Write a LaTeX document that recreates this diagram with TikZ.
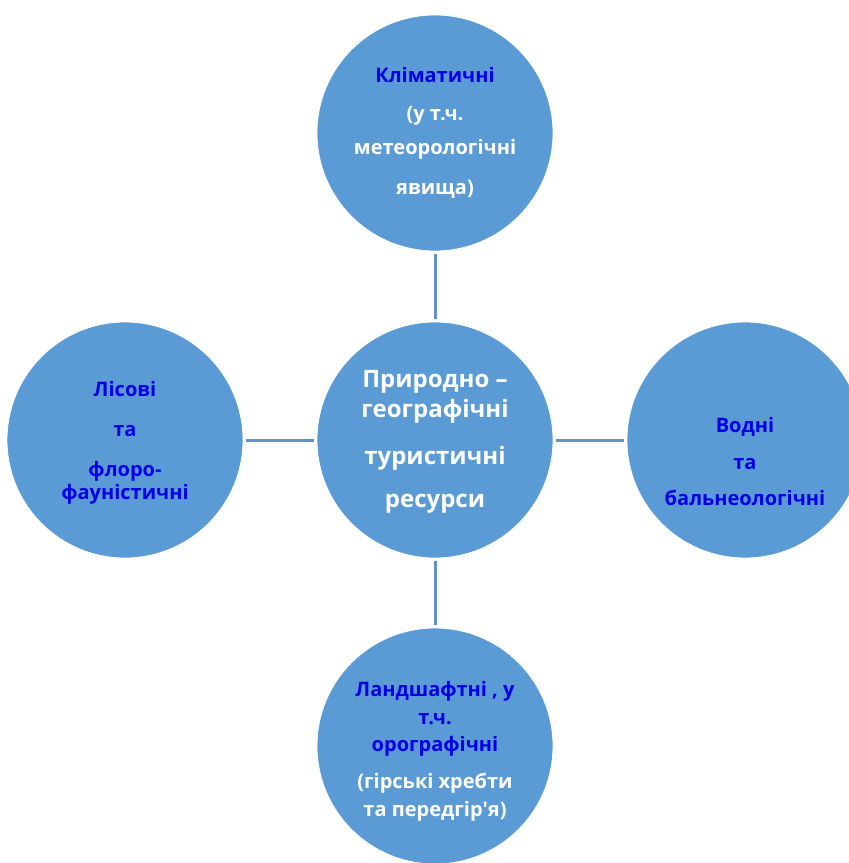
\documentclass[tikz,border=0pt]{standalone}
\usepackage{fontspec}
\setmainfont{Open Sans}[Ligatures=TeXOff]
\definecolor{circfill}{RGB}{91,155,213}
\definecolor{linkcol}{RGB}{100,145,200}
\definecolor{bluetext}{RGB}{0,0,230}
\tikzset{
  bubble/.style={circle,fill=circfill,draw=white,line width=0.8pt,minimum size=236pt,inner sep=0pt},
  link/.style={draw=linkcol,line width=3pt,shorten <=3pt,shorten >=3pt},
  outertxt/.style={align=center,font=\fontsize{20}{30}\selectfont\bfseries,text=bluetext,inner sep=0pt},
  centertxt/.style={align=center,font=\fontsize{24}{31}\selectfont\bfseries,text=white,inner sep=0pt}
}
\begin{document}
\begin{tikzpicture}[x=1pt,y=-1pt]
\useasboundingbox (0,0) rectangle (849,863);
\node[bubble] (top) at (435,133) {};
\node[bubble] (mid) at (435,440) {};
\node[bubble] (left) at (125,440) {};
\node[bubble] (right) at (745,440) {};
\node[bubble] (bot) at (435,746) {};
\draw[link] (top) -- (mid);
\draw[link] (mid) -- (bot);
\draw[link] (left) -- (mid);
\draw[link] (mid) -- (right);
\node[outertxt] (ttop) at (435,132.5) {Кліматичні\\[8pt]\textcolor{white}{(у т.ч.}\\[4pt]\textcolor{white}{метеорологічні}\\[10pt]\textcolor{white}{явища)}};
\node[outertxt] (tright) at (745,461.5) {Водні\\[7pt]та\\[6pt]бальнеологічні};
\node[outertxt] (tleft) at (125,443) {Лісові\\[10pt]та\\[10pt]флоро-\\[-7pt]фауністичні};
\node[outertxt] (tbot) at (435,751) {Ландшафтні , у\\[-2pt]т.ч.\\[-3pt]орографічні\\[7pt]\textcolor{white}{(гірські хребти}\\[-2pt]\textcolor{white}{та передгір'я)}};
\node[centertxt] (tmid) at (435,441.5) {Природно –\\[-1pt]географічні\\[16pt]туристичні\\[12pt]ресурси};
\end{tikzpicture}
\end{document}
